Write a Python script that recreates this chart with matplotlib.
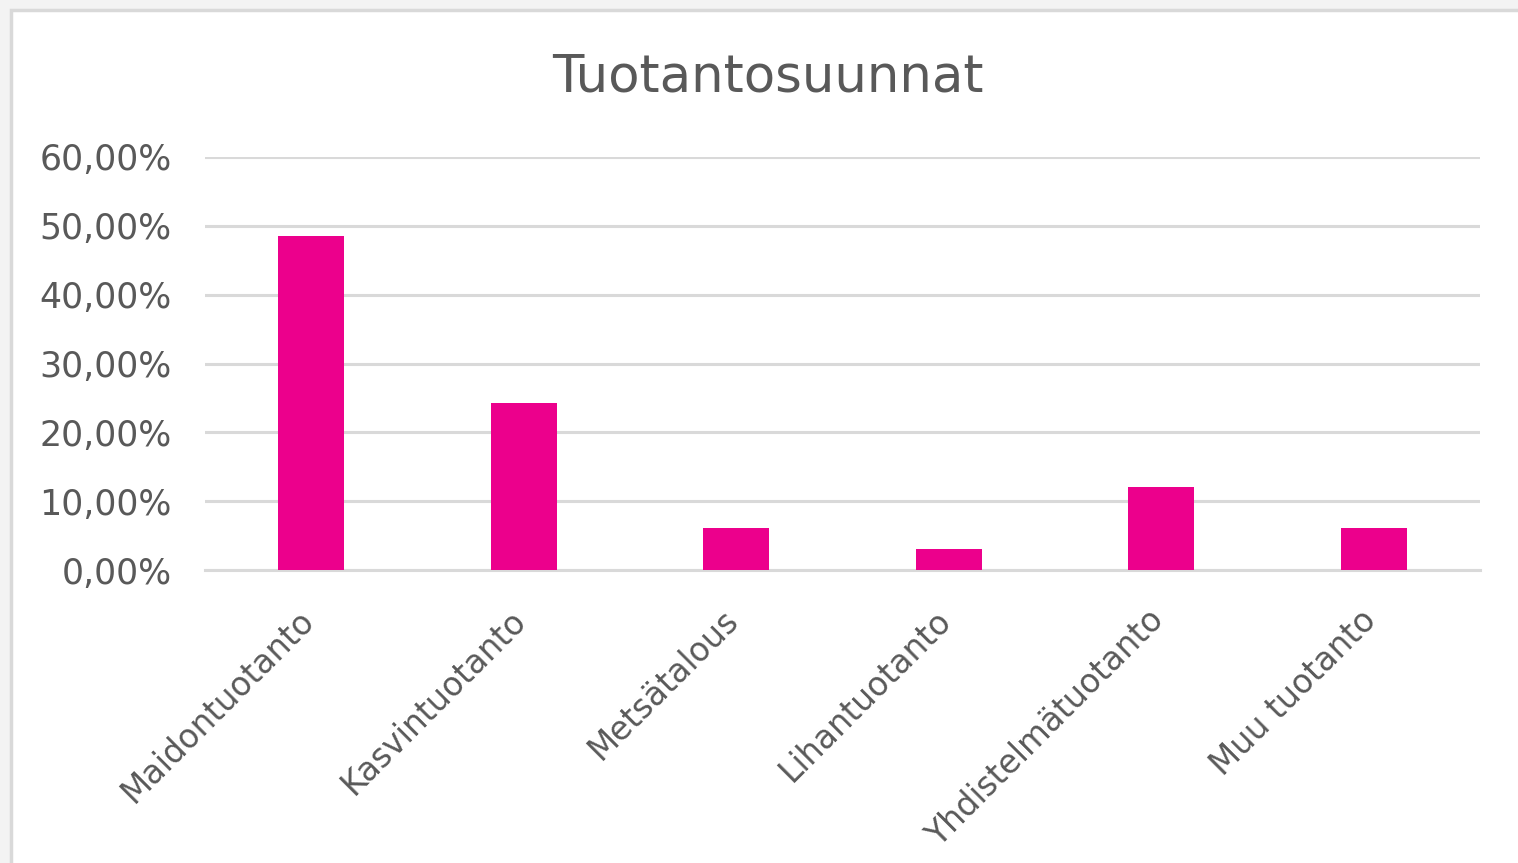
import matplotlib
matplotlib.use('Agg')
import matplotlib.pyplot as plt
import matplotlib.transforms as mtransforms
from matplotlib.patches import Rectangle
from matplotlib.ticker import FuncFormatter

# Datos
suunnat = ['Maidontuotanto', 'Kasvintuotanto', 'Metsätalous',
           'Lihantuotanto', 'Yhdistelmätuotanto', 'Muu tuotanto']
osuudet = [0.4848, 0.2424, 0.0606, 0.0303, 0.1212, 0.0606]
y_ticks = [0.0, 0.1, 0.2, 0.3, 0.4, 0.5, 0.6]

teksti = '#595959'
ruudukko = '#d9d9d9'

fig = plt.figure(figsize=(15.18, 8.63), dpi=100, facecolor='#f3f3f3')

# valkoinen kaaviopohja reunaviivalla
fig.patches.append(Rectangle((11 / 1518, -0.1), 1.2, 1.1 - 10 / 863,
                             transform=fig.transFigure, facecolor='white',
                             edgecolor=ruudukko, linewidth=2.5, zorder=-10))

ax = fig.add_axes([205 / 1518, 1 - 570 / 863, 1275 / 1518, 413 / 863])
ax.set_zorder(5)
ax.set_facecolor('none')
x = range(len(suunnat))
ax.bar(x, osuudet, width=0.31, color='#ec008c', zorder=3)

ax.set_xlim(-0.5, len(suunnat) - 0.5)
ax.set_ylim(0, 0.6)
ax.set_yticks(y_ticks)
ax.yaxis.set_major_formatter(FuncFormatter(lambda v, _: f'{v * 100:.2f}'.replace('.', ',') + '%'))
ax.grid(axis='y', color=ruudukko, linewidth=2.2, zorder=1)
ax.set_axisbelow(True)

for s in ['top', 'right', 'left']:
    ax.spines[s].set_visible(False)
ax.spines['bottom'].set_color(ruudukko)
ax.spines['bottom'].set_linewidth(2.2)

ax.set_xticks(list(x))
ax.set_xticklabels(suunnat, rotation=45, ha='right', va='top', rotation_mode='anchor')
ax.tick_params(axis='y', length=0, pad=24, labelsize=25, labelcolor=teksti)
ax.tick_params(axis='x', length=0, pad=24, labelsize=23.5, labelcolor=teksti)

# siirretään kategoriat hieman vasemmalle
siirto = mtransforms.ScaledTranslation(-14 / 100, 0, fig.dpi_scale_trans)
for lbl in ax.get_xticklabels():
    lbl.set_transform(lbl.get_transform() + siirto)

fig.text(768 / 1518, 1 - 78 / 863, 'Tuotantosuunnat', ha='center', va='center',
         fontsize=37, color=teksti)

fig.savefig('out.png', dpi=100, facecolor=fig.get_facecolor())
